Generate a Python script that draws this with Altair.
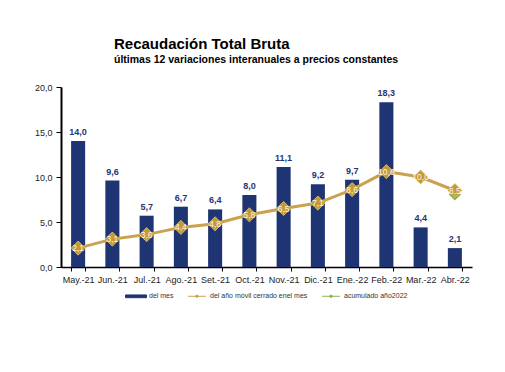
import altair as alt
import pandas as pd

months = ["May.-21", "Jun.-21", "Jul.-21", "Ago.-21", "Set.-21", "Oct.-21",
          "Nov.-21", "Dic.-21", "Ene.-22", "Feb.-22", "Mar.-22", "Abr.-22"]
del_mes = [14.0, 9.6, 5.7, 6.7, 6.4, 8.0, 11.1, 9.2, 9.7, 18.3, 4.4, 2.1]
movil = [2.1, 3.1, 3.6, 4.4, 4.8, 5.8, 6.5, 7.1, 8.6, 10.6, 10.0, 8.5]
acum_month = ["Abr.-22"]
acum_val = [8.5]

series_names = ["del mes", "del año móvil cerrado enel mes", "acumulado año2022"]
NAVY = "#1F3473"
GOLD = "#C9A24E"
GOLD_PT = "#C39A36"
GREEN = "#8DB04A"

df = pd.DataFrame({"mes": months, "v": del_mes, "m": movil})
df["vl"] = [f"{x:.1f}".replace(".", ",") for x in del_mes]
df["ml"] = [f"{x:.1f}".replace(".", ",") for x in movil]
dfa = pd.DataFrame({"mes": acum_month, "a": acum_val})

FONT = "Liberation Sans"

color_scale = alt.Scale(domain=series_names, range=[NAVY, GOLD, GREEN])

shape_expr = ("datum.value == 'del mes' ? 'M-1,-0.13H1V0.13H-1Z' : "
              "'M-0.85,0H0.85M0,-0.14L0.14,0L0,0.14L-0.14,0Z'")

legend = alt.Legend(
    title=None, orient="none", direction="horizontal", legendX=64, legendY=198,
    labelFont=FONT, labelFontSize=7, labelColor="#333333",
    symbolSize=440, symbolStrokeWidth=1, columnPadding=12, labelOffset=2,
    labelLimit=300,
    symbolType={"expr": shape_expr},
    symbolStrokeColor={"expr": "scale('color', datum.value)"},
    symbolFillColor={"expr": "scale('color', datum.value)"},
    symbolOpacity=1,
)

x = alt.X("mes:N", sort=months,
          scale=alt.Scale(paddingInner=0.59, paddingOuter=0.295),
          axis=alt.Axis(title=None, labelAngle=0, tickBand="extent",
                        labelFont=FONT, labelFontSize=9, labelColor="#222222",
                        domainColor="#000000", domainWidth=1.5,
                        tickColor="#000000", tickSize=4, labelPadding=4))
y = alt.Y("v:Q", scale=alt.Scale(domain=[0, 20]),
          axis=alt.Axis(title=None, values=[0, 5, 10, 15, 20], grid=False,
                        labelExpr="replace(format(datum.value, '.1f'), '.', ',')",
                        labelFont=FONT, labelFontSize=9, labelColor="#222222",
                        domainColor="#000000", domainWidth=2,
                        tickColor="#000000", tickSize=5, labelPadding=4))

base = alt.Chart(df)

bars = base.mark_bar(color=NAVY).encode(
    x=x, y=y,
    color=alt.Color("s:N", scale=color_scale, legend=legend)
).transform_calculate(s="'del mes'")

bar_text = base.mark_text(dy=-9, font=FONT, fontSize=9, fontWeight="bold",
                          color=NAVY).encode(
    x=alt.X("mes:N", sort=months), y=alt.Y("v:Q"), text="vl:N")

line = base.mark_line(strokeWidth=3).encode(
    x=alt.X("mes:N", sort=months), y=alt.Y("m:Q"),
    color=alt.Color("s:N", scale=color_scale, legend=legend)
).transform_calculate(s="'del año móvil cerrado enel mes'")

pts = base.mark_point(shape="diamond", filled=True, size=200, color=GOLD_PT,
                      stroke="#E6C777", strokeWidth=0.8, opacity=1).encode(
    x=alt.X("mes:N", sort=months), y=alt.Y("m:Q"))

green = alt.Chart(dfa).mark_point(shape="diamond", filled=True, size=150,
                                  opacity=1).encode(
    x=alt.X("mes:N", sort=months), y=alt.Y("a:Q"),
    yOffset=alt.value(4),
    color=alt.Color("s:N", scale=color_scale, legend=legend)
).transform_calculate(s="'acumulado año2022'")

pts_text = base.mark_text(font=FONT, fontSize=8.5, color="#FFF8E6",
                          opacity=1).encode(
    x=alt.X("mes:N", sort=months), y=alt.Y("m:Q"), text="ml:N")

chart = alt.layer(bars, bar_text, line, green, pts, pts_text).properties(
    width=411, height=180,
    title=alt.TitleParams(
        "Recaudación Total Bruta",
        subtitle="últimas 12 variaciones interanuales a precios constantes",
        anchor="start", frame="group", dx=53, offset=18,
        font=FONT, fontSize=15, fontWeight="bold", color="#000000",
        subtitleFont=FONT, subtitleFontSize=10.5, subtitleFontWeight="bold",
        subtitleColor="#000000", subtitlePadding=3,
    ),
    autosize=alt.AutoSizeParams(type="none"),
    padding={"left": 53, "top": 79, "right": 25, "bottom": 97},
).configure_view(stroke=None)

chart.save("out.html", embed_options={"renderer": "svg", "actions": False})
